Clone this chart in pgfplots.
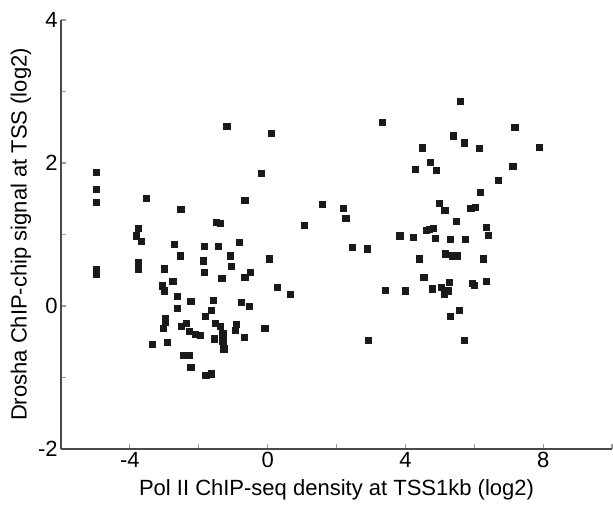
\documentclass[border=0pt]{standalone}
\usepackage{pgfplots}
\pgfplotsset{compat=1.18}
\usepackage{fontspec}
\setmainfont{Liberation Sans}

\begin{document}
\begin{tikzpicture}

% colours
\definecolor{colorMark}{HTML}{1A1A1A}
\definecolor{colorSpine}{HTML}{4A4A4A}
\definecolor{colorTick}{HTML}{9A9A9A}

% fixed page size (613 x 509 px, 1px = 0.5pt)
\useasboundingbox (-30.5pt,-30pt) rectangle (276pt,224.5pt);

\begin{axis}[
    at={(0pt,0pt)}, anchor=south west,
    scale only axis,
    width=275.5pt, height=214.5pt,
    xmin=-6, xmax=10,
    ymin=-2, ymax=4,
    axis lines=left,
    axis line style={-, colorSpine, line width=0.8pt},
    tick align=inside,
    major tick length=2.5pt,
    tick style={colorTick, line width=0.6pt},
    xtick={-4,-2,0,2,4,6,8,10},
    xticklabels={-4,,0,,4,,8,},
    ytick={-2,-1,0,1,2,3,4},
    yticklabels={-2,,0,,2,,4},
    ticklabel style={font=\fontsize{11}{13}\selectfont, inner sep=1.5pt},
    every axis x label/.style={at={([yshift=-20.5pt]axis description cs:0.5,0)}, anchor=center},
    every axis y label/.style={at={([xshift=-20pt]axis description cs:0,0.5)}, anchor=center, rotate=90},
    label style={font=\fontsize{11}{13}\selectfont},
    xlabel={Pol II ChIP-seq density at TSS1kb (log2)},
    ylabel={Drosha ChIP-chip signal at TSS (log2)},
    clip=false,
]

\addplot[only marks, mark=square*, mark size=1.55pt,
         mark options={fill=colorMark, draw=colorMark, rounded corners=0.6pt}]
coordinates {
    (-4.97,1.87) (-4.97,1.63) (-4.97,1.45) (-4.97,0.51) (-4.97,0.45)
    (-3.53,1.50) (-3.75,1.09) (-3.82,0.98) (-3.67,0.90) (-3.75,0.61)
    (-3.75,0.51) (-2.99,0.52) (-3.05,0.28) (-2.99,0.21) (-2.75,0.34)
    (-2.71,0.86) (-2.54,0.70) (-2.52,1.35) (-2.62,0.13) (-2.63,-0.03)
    (-2.23,0.07) (-2.96,-0.17) (-2.96,-0.23) (-3.03,-0.31) (-3.34,-0.54)
    (-2.90,-0.51) (-2.51,-0.28) (-2.35,-0.24) (-2.26,-0.35) (-2.09,-0.40)
    (-1.96,-0.41) (-2.45,-0.69) (-2.28,-0.69) (-2.23,-0.86) (-1.79,-0.97)
    (-1.64,-0.95) (-1.83,0.83) (-1.86,0.63) (-1.83,0.47) (-1.44,0.83)
    (-1.49,1.17) (-1.38,1.15) (-1.81,-0.15) (-1.64,-0.06) (-1.57,0.08)
    (-1.51,-0.24) (-1.37,-0.28) (-1.55,-0.46) (-1.30,-0.39) (-1.30,-0.49)
    (-1.27,-0.60) (-1.33,0.39) (-1.08,0.70) (-1.06,0.55) (-0.82,0.89)
    (-0.66,1.48) (-1.18,2.51) (-0.66,0.40) (-0.50,0.47) (-0.75,0.05)
    (-0.54,0.00) (-0.90,-0.26) (-0.93,-0.34) (-0.67,-0.44) (-0.17,1.86)
    (0.11,2.41) (0.06,0.66) (-0.08,-0.31) (0.28,0.26) (0.66,0.16)
    (1.07,1.13) (1.59,1.42) (2.20,1.36) (2.27,1.23) (2.45,0.82)
    (2.90,0.80) (2.92,-0.48) (3.34,2.57) (3.41,0.22) (3.84,0.98)
    (4.01,0.21) (4.23,0.96) (4.28,1.91) (4.40,0.66) (4.50,2.21)
    (4.54,0.40) (4.61,1.06) (4.70,1.07) (4.72,2.01) (4.82,1.09)
    (4.88,0.95) (4.89,1.90) (4.79,0.24) (4.98,1.43) (5.15,1.34)
    (5.16,0.73) (5.05,0.26) (5.14,0.16) (5.26,0.21) (5.28,0.33)
    (5.31,0.93) (5.40,2.38) (5.37,0.70) (5.50,0.70) (5.48,1.18)
    (5.31,-0.14) (5.57,-0.06) (5.60,2.86) (5.71,2.28) (5.74,0.93)
    (5.72,-0.48) (5.90,1.36) (6.03,1.38) (5.94,0.32) (6.00,0.29)
    (6.15,2.20) (6.18,1.59) (6.26,0.66) (6.35,1.10) (6.41,0.99)
    (6.36,0.34) (6.70,1.76) (7.12,1.95) (7.18,2.50) (7.90,2.22)
};

\end{axis}
\end{tikzpicture}
\end{document}
